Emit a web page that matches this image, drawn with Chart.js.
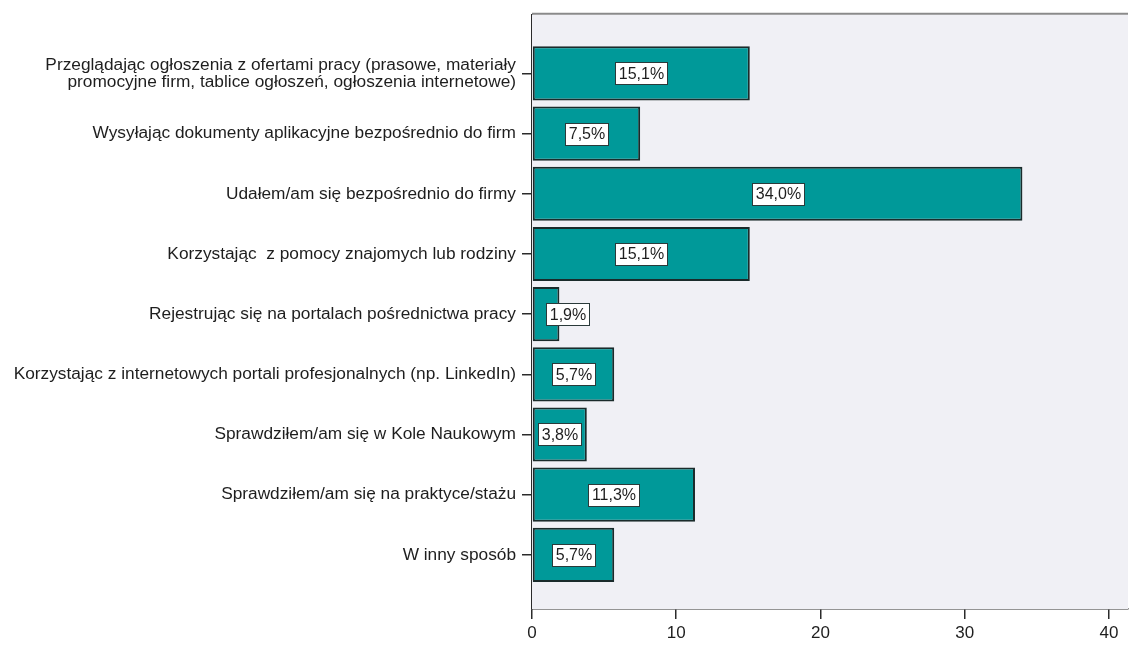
<!DOCTYPE html>
<html>
<head>
<meta charset="utf-8">
<script src="https://cdn.jsdelivr.net/npm/chart.js@4/dist/chart.umd.min.js"></script>
<style>
  html, body { margin: 0; padding: 0; background: #ffffff; }
  #wrap { width: 1129px; height: 648px; }
</style>
</head>
<body>
<div id="wrap"><canvas id="c" width="1129" height="648"></canvas></div>
<script>
const categories = [
  ["Przeglądając ogłoszenia z ofertami pracy (prasowe, materiały", "promocyjne firm, tablice ogłoszeń, ogłoszenia internetowe)"],
  "Wysyłając dokumenty aplikacyjne bezpośrednio do firm",
  "Udałem/am się bezpośrednio do firmy",
  "Korzystając  z pomocy znajomych lub rodziny",
  "Rejestrując się na portalach pośrednictwa pracy",
  "Korzystając z internetowych portali profesjonalnych (np. LinkedIn)",
  "Sprawdziłem/am się w Kole Naukowym",
  "Sprawdziłem/am się na praktyce/stażu",
  "W inny sposób"
];
const percentValues = [15.1, 7.5, 34.0, 15.1, 1.9, 5.7, 3.8, 11.3, 5.7];
const xTickValues = [0, 10, 20, 30, 40];

const FONT = "'Liberation Sans', Arial, sans-serif";
const TEXT = '#1e1e1e';
const AXIS = '#2b2b2b';

const plotDecor = {
  id: 'plotDecor',
  beforeDatasetsDraw(chart) {
    const { ctx, chartArea: a } = chart;
    ctx.save();
    ctx.fillStyle = '#f0f0f5';
    ctx.fillRect(a.left, a.top, a.right - a.left, a.bottom - a.top);
    ctx.strokeStyle = '#8a8a8a';
    ctx.lineWidth = 2;
    ctx.beginPath();
    ctx.moveTo(a.left, a.top - 1);
    ctx.lineTo(a.right, a.top - 1);
    ctx.stroke();
    ctx.restore();
  },
  afterDatasetsDraw(chart) {
    const { ctx } = chart;
    const meta = chart.getDatasetMeta(0);
    ctx.save();
    ctx.font = "16px " + FONT;
    ctx.textAlign = 'center';
    ctx.textBaseline = 'middle';
    meta.data.forEach((bar, i) => {
      const txt = percentValues[i].toFixed(1).replace('.', ',') + '%';
      const tw = ctx.measureText(txt).width;
      const bw = Math.round(tw + 7);
      const bh = 22;
      const cx = (bar.x + bar.base) / 2;
      const halfBar = Math.abs(bar.x - bar.base) / 2;
      let left = cx - bw / 2;
      if (bw / 2 > halfBar) left = cx;
      left = Math.round(left) + 0.5;
      const top = Math.round(bar.y - bh / 2) + 0.5;
      ctx.fillStyle = '#ffffff';
      ctx.fillRect(left, top, bw, bh);
      ctx.strokeStyle = '#2a3a3a';
      ctx.lineWidth = 1;
      ctx.strokeRect(left, top, bw, bh);
      ctx.fillStyle = TEXT;
      ctx.fillText(txt, left + bw / 2, bar.y + 1);
    });
    ctx.restore();
  }
};

new Chart(document.getElementById('c'), {
  type: 'bar',
  data: {
    datasets: [{
      data: percentValues.map((v, i) => ({ x: v, y: i })),
      backgroundColor: '#009999',
      borderColor: '#1a2b2b',
      borderWidth: 2,
      borderSkipped: false,
      barPercentage: 0.9,
      categoryPercentage: 1.0
    }]
  },
  options: {
    indexAxis: 'y',
    responsive: false,
    animation: false,
    layout: { padding: { top: 12, right: 1, left: 0, bottom: 0 } },
    plugins: { legend: { display: false }, tooltip: { enabled: false } },
    scales: {
      x: {
        type: 'linear',
        min: 0,
        max: 41.32,
        offset: false,
        afterBuildTicks(scale) { scale.ticks = xTickValues.map(v => ({ value: v })); },
        afterFit(scale) { scale.height = 39; },
        grid: { offset: false, drawOnChartArea: false, drawTicks: true, tickLength: 10, color: AXIS, lineWidth: 1.5 },
        border: { display: true, color: AXIS, width: 1.5 },
        ticks: { color: TEXT, font: { family: FONT, size: 17 }, padding: 4, autoSkip: false, maxRotation: 0 }
      },
      y: {
        type: 'linear',
        reverse: true,
        min: -0.977,
        max: 8.9,
        offset: false,
        afterBuildTicks(scale) { scale.ticks = categories.map((_, i) => ({ value: i })); },
        afterFit(scale) { scale.width = 532; },
        grid: { offset: false, drawOnChartArea: false, drawTicks: true, tickLength: 10, color: AXIS, lineWidth: 1.5 },
        border: { display: true, color: AXIS, width: 1.5 },
        ticks: {
          color: TEXT,
          font: { family: FONT, size: 17.3, lineHeight: 1.0 },
          padding: 6,
          autoSkip: false,
          callback: (v) => categories[v]
        }
      }
    }
  },
  plugins: [plotDecor]
});
</script>
</body>
</html>
